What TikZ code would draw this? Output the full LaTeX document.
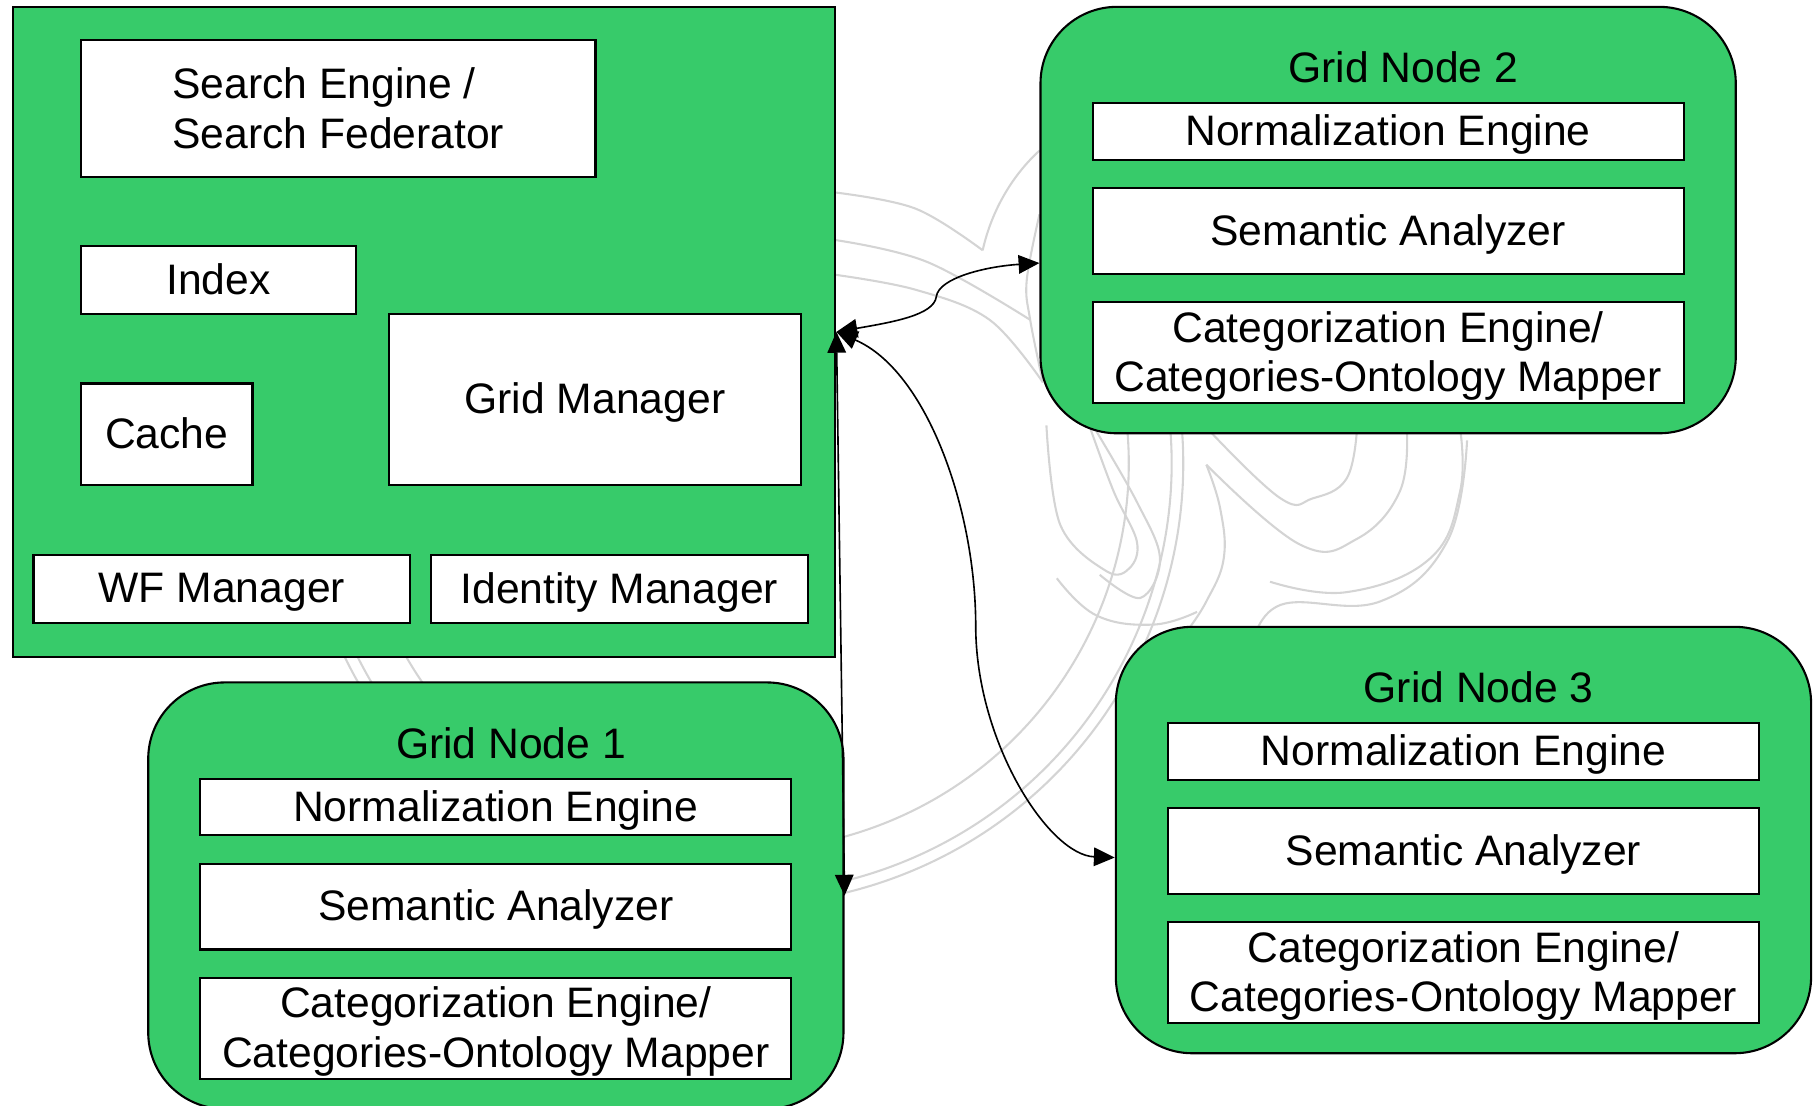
\documentclass[tikz,border=0pt]{standalone}
\usepackage{fontspec}
\setmainfont{Liberation Sans}
\usetikzlibrary{arrows.meta,calc}
\definecolor{boxgreen}{RGB}{55,203,106}
\definecolor{wmark}{RGB}{212,212,212}

% One grid node: rounded green container with its title and three components
\newcommand\gridnode[4]{% #1 name, #2 left, #3 top, #4 number
  \node[gnode] (#1) at (#2,#3) {};
  \node[gtitle] (#1-title) at ($(#1.north west)+(314,53)$) {Grid Node #4};
  \node[wbox, minimum width=255pt, minimum height=24.5pt] (#1-norm)
    at ($(#1.north west)+(45,83)$) {Normalization Engine};
  \node[wbox, minimum width=255pt, minimum height=37pt] (#1-sem)
    at ($(#1.north west)+(45,156.5)$) {Semantic Analyzer};
  \node[wbox, minimum width=255pt, minimum height=43.5pt] (#1-cat)
    at ($(#1.north west)+(45,255)$) {Categorization Engine/\\Categories-Ontology Mapper};
}

\begin{document}
\begin{tikzpicture}[x=0.5pt,y=-0.5pt,
  every node/.style={font=\fontsize{18.4}{21.5}\selectfont},
  container/.style={draw=black, line width=0.9pt, fill=boxgreen, inner sep=0pt, anchor=north west},
  gnode/.style={container, rounded corners=33pt, minimum width=300pt, minimum height=184pt},
  wbox/.style={draw=black, line width=0.9pt, fill=white, inner sep=0pt, align=center,
    text depth=1pt, anchor=north west},
  gtitle/.style={inner sep=0pt},
  link/.style={line width=0.7pt, {Triangle[length=9pt,width=8pt]}-{Triangle[length=9pt,width=8pt]}},
  wm/.style={draw=wmark, line width=0.9pt, line join=round}
]
\useasboundingbox (0,0) rectangle (1568,954);
\clip (0,0) rectangle (1568,954);

% faint background emblem
\begin{scope}[wm]
  \foreach \r in {334,371,381}
    \draw ([shift={(-20:\r)}]640,400) arc[start angle=-20, end angle=160, radius=\r];
  % swirls below grid node 2
  \draw plot[smooth, tension=0.7] coordinates {(1171,370) (1162,413) (1133,430) (1105,430) (1044,372)};
  \draw plot[smooth, tension=0.7] coordinates {(1214,370) (1208,424) (1171,465) (1122,470) (1041,401)};
  \draw plot[smooth, tension=0.7] coordinates {(1260,370) (1260,424) (1234,482) (1162,511) (1096,502)};
  \draw plot[smooth, tension=0.7] coordinates {(1266,380) (1249,467) (1191,519) (1105,522) (1080,560)};
  \draw plot[smooth, tension=0.7] coordinates {(1041,401) (1053,439) (1056,482) (1041,519) (1024,545)};
  \draw plot[smooth, tension=0.6] coordinates {(903,367) (915,453) (955,493) (975,490) (981,467) (961,424) (941,370)};
  \draw plot[smooth, tension=0.6] coordinates {(943,367) (981,433) (1001,482) (984,516) (949,496)};
  \draw plot[smooth, tension=0.7] coordinates {(912,499) (946,531) (995,539) (1033,528)};
  % sweeps between the portal server and grid node 2
  \draw plot[smooth, tension=0.6] coordinates {(720,166) (790,180) (848,216)};
  \draw (848,216) .. controls (856,180) and (875,150) .. (897,130);
  \draw plot[smooth, tension=0.6] coordinates {(720,207) (800,226) (889,276)};
  \draw plot[smooth, tension=0.6] coordinates {(720,237) (790,250) (854,276) (900,330)};
  \draw plot[smooth, tension=0.6] coordinates {(897,185) (886,242) (889,276) (900,330)};
\end{scope}

% portal server
\node[container, minimum width=355pt, minimum height=280.5pt] (main) at (10,5) {};
\node[wbox, align=left, minimum width=222pt, minimum height=59pt] (search) at (69,34)
  {Search Engine /\\Search Federator};
\node[wbox, minimum width=118.5pt, minimum height=29.5pt] (index) at (69,211) {Index};
\node[wbox, minimum width=74pt, minimum height=44pt] (cache) at (69,330) {Cache};
\node[wbox, minimum width=177.5pt, minimum height=74pt] (gridmgr) at (335,270) {Grid Manager};
\node[wbox, minimum width=162.5pt, minimum height=29.5pt] (wfmgr) at (28,478) {WF Manager};
\node[wbox, minimum width=162.5pt, minimum height=29.5pt] (idmgr) at (371,478) {Identity Manager};

% grid nodes
\gridnode{g2}{897}{5}{2}
\gridnode{g3}{962}{540}{3}
\gridnode{g1}{127}{588}{1}

% connections
\coordinate (hub) at (main.east);
\coordinate (g2in) at ($(g2.north west)+(0,222)$);
\coordinate (g3in) at ($(g3.north west)+(0,200)$);
\draw[link] (hub) .. controls (770,278) and (806,272) .. (808,256)
  .. controls (810,240) and (850,230) .. (g2in);
\draw[link] (hub) .. controls (800,320) and (842,440) .. (842,540)
  .. controls (842,640) and (905,738) .. (g3in);
\draw[link] (hub) -- (g1.east);
\end{tikzpicture}
\end{document}
